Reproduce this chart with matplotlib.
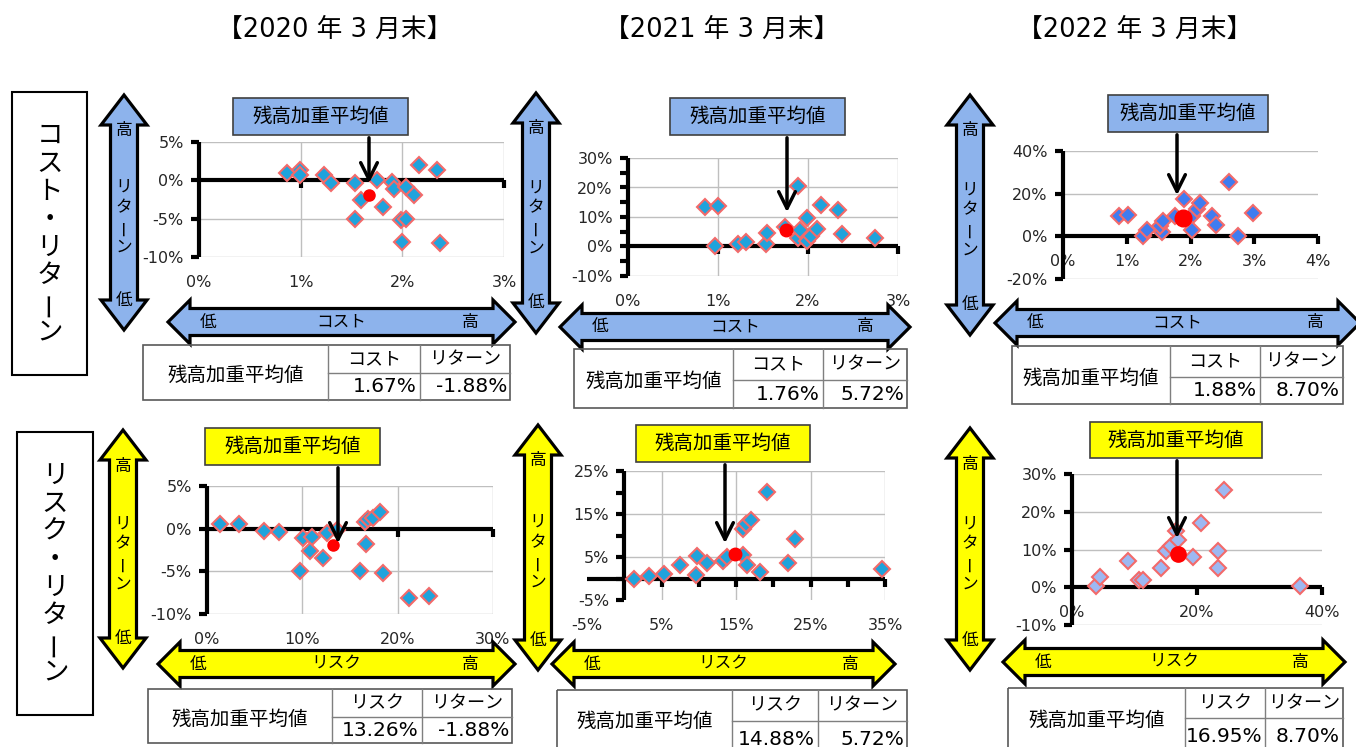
import matplotlib
matplotlib.use('Agg')
import matplotlib.pyplot as plt
from matplotlib.patches import Polygon, Rectangle

plt.rcParams['font.family'] = ['Noto Sans CJK JP', 'DejaVu Sans']

W, H = 1356, 747

years = ['【2020 年 3 月末】', '【2021 年 3 月末】', '【2022 年 3 月末】']
row_names = ['コスト・リターン', 'リスク・リターン']

# cost / return (percent)
cost_20 = [0.87, 0.99, 0.99, 1.23, 1.30, 1.53, 1.59, 1.53, 1.75, 1.81, 1.90, 1.92, 2.04, 2.11, 1.99, 2.04, 2.00, 2.16, 2.34, 2.37]
ret_c20 = [1.0, 1.3, 0.7, 0.7, -0.3, -0.3, -2.6, -5.0, 0.0, -3.5, -0.2, -1.1, -0.9, -1.9, -5.2, -5.1, -8.0, 2.0, 1.3, -8.2]
cost_21 = [0.86, 1.00, 0.97, 1.22, 1.31, 1.53, 1.54, 1.75, 1.89, 1.89, 1.91, 1.99, 1.99, 2.03, 2.10, 2.15, 2.33, 2.38, 2.75]
ret_c21 = [13.4, 13.7, 0.0, 0.8, 1.4, 0.8, 4.6, 6.5, 20.5, 2.8, 5.7, 1.7, 9.7, 3.6, 6.0, 13.9, 12.3, 4.2, 2.8]
cost_22 = [0.88, 1.02, 1.25, 1.32, 1.55, 1.52, 1.57, 1.76, 1.90, 2.03, 2.03, 2.10, 2.15, 2.34, 2.40, 2.60, 2.75, 2.98]
ret_c22 = [9.6, 9.9, 0.0, 2.8, 1.9, 5.0, 7.3, 9.6, 17.4, 9.3, 2.8, 12.7, 15.8, 9.6, 5.4, 25.6, 0.0, 10.9]

# risk / return (percent)
risk_20 = [1.4, 3.4, 6.0, 7.6, 10.1, 11.0, 10.8, 9.8, 12.2, 12.6, 13.6, 16.7, 16.1, 16.6, 16.9, 17.4, 18.1, 18.5, 21.2, 23.3]
ret_r20 = [0.5, 0.6, -0.3, -0.35, -1.05, -1.0, -2.6, -5.0, -3.4, -0.5, -0.1, -1.8, -5.0, 0.8, 1.1, 1.3, 1.9, -5.2, -8.1, -7.9]
risk_21 = [1.25, 3.35, 5.4, 7.5, 9.75, 9.66, 11.1, 13.3, 13.8, 15.9, 15.9, 16.4, 17.0, 16.5, 18.2, 19.2, 22.0, 22.9, 34.6]
ret_r21 = [-0.15, 0.5, 1.15, 3.1, 5.2, 0.9, 3.5, 4.0, 5.0, 5.5, 11.5, 12.7, 13.6, 3.1, 1.5, 20.2, 3.5, 9.2, 2.2]
risk_22 = [3.8, 4.4, 9.0, 10.7, 11.4, 14.3, 15.1, 15.9, 16.7, 17.0, 19.3, 20.7, 23.3, 23.4, 24.3, 36.4]
ret_r22 = [0.35, 2.7, 7.0, 1.9, 1.9, 5.2, 9.5, 10.8, 15.0, 12.4, 7.9, 17.1, 9.7, 5.2, 25.8, 0.2]

# balance-weighted averages
mean_cost = [1.67, 1.76, 1.88]
mean_risk = [13.26, 14.88, 16.95]
mean_ret = [-1.88, 5.72, 8.70]

BLUE = '#8DB3EC'
YELLOW = '#FFFF00'
EDGE = '#F36A6A'
GRID = '#BFBFBF'

fig = plt.figure(figsize=(W / 100, H / 100), dpi=100)
ov = fig.add_axes([0, 0, 1, 1], zorder=10)
ov.set_xlim(0, W)
ov.set_ylim(H, 0)
ov.axis('off')
ov.patch.set_alpha(0)


def panel(box, xs, ys, mx, my, xlim, ylim, xticks, yticks, xmarks, ymarks,
          vgrid, hgrid, label_y, color, dot_ms):
    l, t, r, b = box
    ax = fig.add_axes([l / W, 1 - b / H, (r - l) / W, (b - t) / H])
    ax.set_xlim(xlim)
    ax.set_ylim(ylim)
    ax.patch.set_alpha(0)
    for s in ax.spines.values():
        s.set_visible(False)
    ax.spines['bottom'].set_position(('data', label_y))
    ax.spines['left'].set_position(('data', 0))
    ax.hlines(hgrid, 0, xlim[1], color=GRID, lw=1, zorder=1)
    ax.vlines(vgrid, ylim[0], ylim[1], color=GRID, lw=1, zorder=1)
    ax.plot(xlim, [0, 0], color='k', lw=3, zorder=2, clip_on=False, solid_capstyle='butt')
    ax.plot([0, 0], ylim, color='k', lw=3, zorder=2, clip_on=False, solid_capstyle='butt')
    ax.plot(xmarks, [0] * len(xmarks), ls='none', marker=3, ms=6, mew=3, color='k', clip_on=False, zorder=2)
    ax.plot([0] * len(ymarks), ymarks, ls='none', marker=0, ms=6, mew=3, color='k', clip_on=False, zorder=2)
    ax.plot(xs, ys, ls='none', marker='D', ms=8.5, mfc=color, mec=EDGE, mew=1.5, zorder=3, clip_on=False)
    ax.plot([mx], [my], ls='none', marker='o', ms=dot_ms, color='red', zorder=4)
    ax.set_xticks(xticks)
    ax.set_xticklabels([f'{v:g}%' for v in xticks], family='DejaVu Sans')
    ax.set_yticks(yticks)
    ax.set_yticklabels([f'{v:g}%' for v in yticks], family='DejaVu Sans')
    ax.tick_params(axis='x', length=0, pad=13, labelsize=11.5, labelcolor='#262626')
    ax.tick_params(axis='y', length=0, pad=11, labelsize=11.5, labelcolor='#262626')
    return ax


def harrow(x0, x1, yc, color, hs=13.5, hh=22, hl=22):
    pts = [(x0, yc), (x0 + hl, yc - hh), (x0 + hl, yc - hs), (x1 - hl, yc - hs),
           (x1 - hl, yc - hh), (x1, yc), (x1 - hl, yc + hh), (x1 - hl, yc + hs),
           (x0 + hl, yc + hs), (x0 + hl, yc + hh)]
    ov.add_patch(Polygon(pts, closed=True, fc=color, ec='k', lw=2.3, joinstyle='miter'))


def varrow(xc, y0, y1, color, hs=13.5, hh=23, hl=30):
    pts = [(xc, y0), (xc + hh, y0 + hl), (xc + hs, y0 + hl), (xc + hs, y1 - hl),
           (xc + hh, y1 - hl), (xc, y1), (xc - hh, y1 - hl), (xc - hs, y1 - hl),
           (xc - hs, y0 + hl), (xc - hh, y0 + hl)]
    ov.add_patch(Polygon(pts, closed=True, fc=color, ec='k', lw=2.3, joinstyle='miter'))


def vtext(x, yc, s, size, step):
    n = len(s)
    for i, ch in enumerate(s):
        y = yc + (i - (n - 1) / 2) * step
        ov.text(x, y, ch, rotation=90 if ch == 'ー' else 0, ha='center', va='center', fontsize=size)


def label_box(l, t, r, b, color, tip_x, tip_y):
    ov.add_patch(Rectangle((l, t), r - l, b - t, fc=color, ec='#404040', lw=1.2))
    ov.text((l + r) / 2, (t + b) / 2, '残高加重平均値', ha='center', va='center', fontsize=14)
    ov.annotate('', xy=(tip_x, tip_y), xytext=(tip_x, b),
                arrowprops=dict(arrowstyle='->', lw=2.5, color='k', mutation_scale=30))


def table(l, m1, m2, r, t, mid, b, head, v1, v2):
    ov.add_patch(Rectangle((l, t), r - l, b - t, fill=False, ec='#595959', lw=1.2))
    ov.plot([m1, m1], [t, b], color='#7F7F7F', lw=1)
    ov.plot([m2, m2], [t, b], color='#7F7F7F', lw=1)
    ov.plot([m1, r], [mid, mid], color='#7F7F7F', lw=1)
    ov.text((l + m1) / 2, (t + min(b, 747)) / 2 + 3, '残高加重平均値', ha='center', va='center', fontsize=14)
    ov.text((m1 + m2) / 2, (t + mid) / 2, head, ha='center', va='center', fontsize=13)
    ov.text((m2 + r) / 2, (t + mid) / 2, 'リターン', ha='center', va='center', fontsize=13)
    ov.text(m2 - 3, (mid + b) / 2, v1, ha='right', va='center', fontsize=14.5, family='DejaVu Sans')
    ov.text(r - 3, (mid + b) / 2, v2, ha='right', va='center', fontsize=14.5, family='DejaVu Sans')


# titles and row boxes
for x, s in zip([335, 722, 1135], years):
    ov.text(x, 30, s, ha='center', va='center', fontsize=18.5, family=['DejaVu Sans', 'Noto Sans CJK JP'])
for (l, t, r, b), s in zip([(12, 92, 87, 375), (17, 432, 93, 715)], row_names):
    ov.add_patch(Rectangle((l, t), r - l, b - t, fill=False, ec='k', lw=1.5))
    vtext((l + r) / 2, (t + b) / 2, s, 19, 28)

# arrows behind the plots
h_cost = [(168, 515, 322), (560, 910, 327), (995, 1360, 323)]
h_risk = [(158, 515, 664), (552, 895, 664), (1003, 1345, 662)]
v_cost = [(124, 95, 330), (536, 93, 333), (970, 95, 335)]
v_risk = [(123, 430, 668), (538, 425, 670), (970, 428, 670)]
for (x0, x1, yc), color, word in [(a, BLUE, 'コスト') for a in h_cost] + [(a, YELLOW, 'リスク') for a in h_risk]:
    harrow(x0, x1, yc, color)
    ov.text(x0 + 40, yc, '低', ha='center', va='center', fontsize=12)
    ov.text((x0 + x1) / 2, yc, word, ha='center', va='center', fontsize=12)
    ov.text(x1 - 45, yc, '高', ha='center', va='center', fontsize=12)
for (xc, y0, y1), color in [(a, BLUE) for a in v_cost] + [(a, YELLOW) for a in v_risk]:
    varrow(xc, y0, y1, color)
    ov.text(xc, y0 + 36, '高', ha='center', va='center', fontsize=12)
    ov.text(xc, y1 - 30, '低', ha='center', va='center', fontsize=12)
    vtext(xc, (y0 + y1) / 2 + 5, 'リターン', 12, 20)

# scatter panels
panel((199, 142, 504, 257), cost_20, ret_c20, mean_cost[0], mean_ret[0], (0, 3), (-10, 5),
      [0, 1, 2, 3], [5, 0, -5, -10], [1, 2, 3], [5, 0, -5, -10], [1, 2, 3], [5, -5, -10], -10, '#1FA3DC', 8)
panel((628, 158, 898, 276), cost_21, ret_c21, mean_cost[1], mean_ret[1], (0, 3), (-10, 30),
      [0, 1, 2, 3], [30, 20, 10, 0, -10], [1, 2, 3], list(range(-10, 31, 5)), [1, 2, 3], [30, 20, 10, -10], -10, '#1FA3DC', 9)
panel((1063, 151, 1318, 279), cost_22, ret_c22, mean_cost[2], mean_ret[2], (0, 4), (-20, 40),
      [0, 1, 2, 3, 4], [40, 20, 0, -20], [1, 2, 3, 4], [40, 20, 0, -20], [], [40, 20, -20], 0, '#3F7CF0', 12)
panel((207, 486, 493, 614), risk_20, ret_r20, mean_risk[0], mean_ret[0], (0, 30), (-10, 5),
      [0, 10, 20, 30], [5, 0, -5, -10], [10, 20, 30], [5, 0, -5, -10], [10, 20, 30], [5, -5, -10], -10, '#1FA3DC', 8)
panel((587, 471, 885, 600), risk_21, ret_r21, mean_risk[1], mean_ret[1], (-5, 35), (-5, 25),
      [-5, 5, 15, 25, 35], [25, 15, 5, -5], list(range(5, 36, 5)), list(range(-5, 26, 5)), [5, 15, 25, 35], [25, 15, 5], -5, '#1FA3DC', 9)
panel((1072, 474, 1322, 625), risk_22, ret_r22, mean_risk[2], mean_ret[2], (0, 40), (-10, 30),
      [0, 20, 40], [30, 20, 10, 0, -10], [20, 40], [30, 20, 10, 0, -10], [], [30, 20, 10, -10], 0, '#9DB8F2', 11)

# callout boxes
label_box(233, 98, 408, 135, BLUE, 369, 186)
label_box(670, 98, 845, 135, BLUE, 787, 215)
label_box(1108, 95, 1268, 132, BLUE, 1177, 198)
label_box(205, 428, 380, 465, YELLOW, 338, 546)
label_box(636, 425, 810, 462, YELLOW, 725, 546)
label_box(1090, 422, 1262, 458, YELLOW, 1177, 541)

# summary tables
table(143, 328, 420, 510, 345, 373, 400, 'コスト', f'{mean_cost[0]:.2f}%', f'{mean_ret[0]:.2f}%')
table(574, 733, 823, 907, 349, 380, 408, 'コスト', f'{mean_cost[1]:.2f}%', f'{mean_ret[1]:.2f}%')
table(1012, 1170, 1260, 1343, 346, 377, 404, 'コスト', f'{mean_cost[2]:.2f}%', f'{mean_ret[2]:.2f}%')
table(148, 332, 422, 512, 689, 717, 743, 'リスク', f'{mean_risk[0]:.2f}%', f'{mean_ret[0]:.2f}%')
table(557, 732, 818, 907, 690, 721, 758, 'リスク', f'{mean_risk[1]:.2f}%', f'{mean_ret[1]:.2f}%')
table(1008, 1185, 1265, 1343, 688, 718, 756, 'リスク', f'{mean_risk[2]:.2f}%', f'{mean_ret[2]:.2f}%')

fig.savefig('out.png', dpi=100)
